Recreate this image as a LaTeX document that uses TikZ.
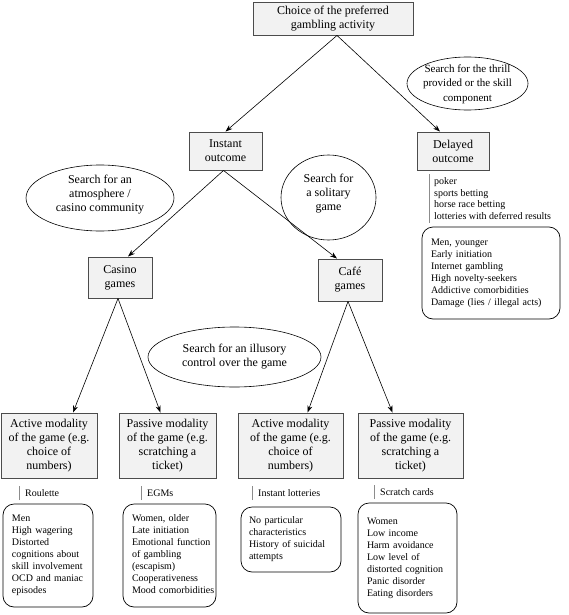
\documentclass[tikz,border=0pt]{standalone}
\usepackage{fontspec}
\setmainfont{Liberation Serif}
\usetikzlibrary{shapes.geometric,arrows.meta}
\newcommand{\rows}[1]{\begin{tabular}{@{}l@{}}#1\end{tabular}}
\begin{document}
\begin{tikzpicture}[x=1pt,y=-1pt,
  box/.style={draw=black!70,line width=0.9pt,fill=black!5,inner sep=0pt,align=center,
    font=\fontsize{12}{14}\selectfont},
  oval/.style={ellipse,draw=black,line width=0.6pt,inner sep=0pt},
  ovaltext/.style={inner sep=0pt,align=center,font=\fontsize{12}{14}\selectfont},
  rbox/.style={draw=black,line width=0.7pt,rounded corners=11pt,inner xsep=9pt,inner ysep=0pt,
    align=left,font=\fontsize{10}{12}\selectfont},
  lab/.style={inner sep=0pt,anchor=west,align=left,font=\fontsize{10}{11.7}\selectfont},
  sepline/.style={draw=black!45,line width=0.8pt},
  arr/.style={draw=black,line width=0.6pt,-{Stealth[length=7pt,width=5pt]}}
]
\useasboundingbox (0,0) rectangle (568,615);

% top
\node[box,minimum width=160,minimum height=33] (top) at (333,18.5)
  {Choice of the preferred\\gambling activity};
\node[oval,minimum width=121,minimum height=53] (thrill) at (467.5,83.5) {};
\node[ovaltext,font=\fontsize{11}{14.5}\selectfont] (thrillt) at (467.5,84)
  {Search for the thrill\\provided or the skill\\component};

% second level
\node[box,minimum width=73,minimum height=38] (instant) at (225.5,151) {Instant\\outcome};
\node[box,minimum width=72,minimum height=38] (delayed) at (453,151) {Delayed\\outcome};

\node[oval,minimum width=148,minimum height=66] (atmos) at (100,198) {};
\node[ovaltext] (atmost) at (100,195) {Search for an\\atmosphere /\\casino community};
\node[oval,minimum width=95,minimum height=85] (solit) at (328.5,197.5) {};
\node[ovaltext] (solitt) at (328.5,194) {Search for\\a solitary\\game};

% delayed details
\node[lab] (dlist) at (434,198.5) {poker\\sports betting\\horse race betting\\lotteries with deferred results};
\draw[sepline] ([xshift=-5]dlist.west |- 0,174) -- ([xshift=-5]dlist.west |- 0,223);
\node[rbox,text width=120,minimum height=92] (dprof) at (491,273)
  {\rows{Men, younger\\Early initiation\\Internet gambling\\High novelty-seekers\\Addictive comorbidities\\Damage (lies / illegal acts)}};

% third level
\node[box,minimum width=64,minimum height=41] (casino) at (120,277.5) {Casino\\games};
\node[box,minimum width=64,minimum height=42] (cafe) at (350,280) {Café\\games};

\node[oval,minimum width=173,minimum height=60] (illus) at (234.5,357) {};
\node[ovaltext] (illust) at (234.5,357) {Search for an illusory\\control over the game};

% bottom boxes
\node[box,minimum width=96,minimum height=65] (a1) at (49,445.5)
  {Active modality\\of the game (e.g.\\choice of\\numbers)};
\node[box,minimum width=97,minimum height=65] (p1) at (167.5,445.5)
  {Passive modality\\of the game (e.g.\\scratching a\\ticket)};
\node[box,minimum width=105,minimum height=65] (a2) at (290.5,445.5)
  {Active modality\\of the game (e.g.\\choice of\\numbers)};
\node[box,minimum width=105,minimum height=65] (p2) at (410.5,445.5)
  {Passive modality\\of the game (e.g.\\scratching a\\ticket)};

% labels
\node[lab] (l1) at (25,493) {Roulette};
\node[lab] (l2) at (147,493) {EGMs};
\node[lab] (l3) at (258,493) {Instant lotteries};
\node[lab] (l4) at (380,492) {Scratch cards};
\foreach \n in {l1,l2,l3,l4}{
  \draw[sepline] ([xshift=-6,yshift=-7]\n.west) -- ([xshift=-6,yshift=7]\n.west);
}

% profiles
\node[rbox,text width=72,minimum height=103] (r1) at (48,555.5)
  {\rows{Men\\High wagering\\Distorted\\cognitions about\\skill involvement\\OCD and maniac\\episodes}};
\node[rbox,text width=75,minimum height=103] (r2) at (169.5,555.5)
  {\rows{Women, older\\Late initiation\\Emotional function\\of gambling\\(escapism)\\Cooperativeness\\Mood comorbidities}};
\node[rbox,text width=84,minimum height=65,inner xsep=8pt] (r3) at (291,539.5)
  {\rows{No particular\\characteristics\\History of suicidal\\attempts}};
\node[rbox,text width=81,minimum height=110] (r4) at (407.5,558)
  {\rows{Women\\Low income\\Harm avoidance\\Low level of\\distorted cognition\\Panic disorder\\Eating disorders}};

% arrows
\draw[arr] ([xshift=4]top.south) -- (instant.north);
\draw[arr] ([xshift=4]top.south) -- ([xshift=-13]delayed.north);
\draw[arr] ([xshift=-2]instant.south) -- ([xshift=8]casino.north);
\draw[arr] ([xshift=-2]instant.south) -- ([xshift=-13]cafe.north);
\draw[arr] ([xshift=-2]casino.south) -- ([xshift=24]a1.north);
\draw[arr] ([xshift=-2]casino.south) -- ([xshift=-7]p1.north);
\draw[arr] ([xshift=-2]cafe.south) -- ([xshift=17]a2.north);
\draw[arr] ([xshift=-2]cafe.south) -- ([xshift=-18]p2.north);
\end{tikzpicture}
\end{document}
